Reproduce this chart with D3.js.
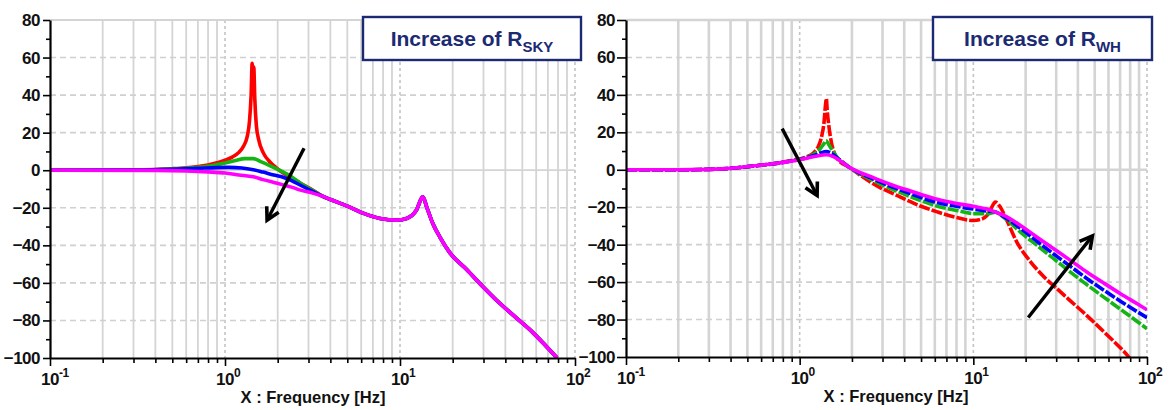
<!DOCTYPE html>
<html>
<head>
<meta charset="utf-8">
<script src="https://cdn.jsdelivr.net/npm/d3@7"></script>
<style>
body { margin: 0; background: #fff; }
svg { display: block; font-family: "Liberation Sans", Arial, sans-serif; }
</style>
</head>
<body>
<svg id="chart" width="1169" height="410"></svg>
<script>
// axis values
var xDecades = [0.1, 1, 10, 100];
var xDecadeExp = ["-1", "0", "1", "2"];
var yTicks = [-100, -80, -60, -40, -20, 0, 20, 40, 60, 80];
var yMinorTicks = [-90, -70, -50, -30, -10, 10, 30, 50, 70];
var colors = ["#ff0000", "#14b414", "#0000ff", "#ff00ff"];

// left plot: increase of R_SKY  [frequency Hz, dB]
var skyRed = [[0.1,0],[0.2,0],[0.3,0.1],[0.4,0.4],[0.5,0.8],[0.6,1.3],[0.7,2],[0.8,2.8],[0.9,4],[1.0,5.3],[1.1,7],[1.2,9.5],[1.28,13],[1.34,18],[1.38,26],[1.41,40],[1.43,57],[1.445,48],[1.46,55],[1.48,38],[1.51,24],[1.56,16],[1.65,9.5],[1.8,4.5],[1.95,1.5],[2.15,-1.5],[2.4,-4],[2.7,-7],[3.2,-10.8]];
var skyGreen = [[0.1,0],[0.3,0.1],[0.5,0.6],[0.7,1.5],[0.85,2.5],[1.0,3.8],[1.15,5.2],[1.3,6.2],[1.45,6.2],[1.6,4.6],[1.8,2.5],[2.1,-0.5],[2.4,-3.5],[2.7,-7],[3.2,-11]];
var skyBlue = [[0.1,0],[0.3,0.1],[0.5,0.5],[0.7,1],[0.9,1.4],[1.05,1.5],[1.25,1.2],[1.45,0.3],[1.65,-1],[1.9,-2.5],[2.15,-3.7],[2.4,-5.5],[2.7,-8],[3.2,-11.5]];
var skyMagenta = [[0.1,0],[0.4,-0.1],[0.6,-0.4],[0.8,-0.9],[1.0,-1.5],[1.2,-2.5],[1.45,-3.5],[1.65,-5],[1.9,-6.5],[2.15,-7.8],[2.4,-9],[2.7,-10.6],[3.2,-12.3]];
// all four curves share the same high frequency part
var skyTail = [[3.6,-13.8],[4,-15.6],[5,-19.1],[6.2,-23],[7.7,-25.7],[9.6,-26.6],[10.9,-25.7],[12.4,-21.3],[13.5,-14.2],[14.2,-19.5],[15.4,-28.4],[17,-36],[19.3,-44],[24.1,-53],[29.8,-62],[37.3,-71],[46,-78.5],[57.5,-86.5],[68,-93.5],[79,-100]];

// right plot: increase of R_WH
var whRed = [[0.1,0],[0.2,0],[0.3,0.2],[0.36,0.5],[0.45,1.2],[0.54,2],[0.65,2.8],[0.77,3.8],[0.9,4.9],[1.0,5.8],[1.1,7],[1.2,9],[1.28,12.5],[1.34,18],[1.38,25],[1.41,35],[1.425,38],[1.44,32],[1.47,24],[1.52,15],[1.6,8],[1.72,4],[1.9,1.8],[2.2,-2.5],[2.55,-6.5],[2.9,-9.5],[3.5,-13],[4,-15.5],[5,-19.5],[6.2,-22.5],[8,-25.5],[10,-27.1],[11,-26.5],[12,-24.4],[12.6,-21],[13.4,-17.3],[14.2,-19.5],[15.6,-27.1],[17.9,-39],[21.3,-49],[25.4,-57],[30.3,-63.5],[36.2,-70],[45.2,-78],[56.4,-86.5],[76.9,-99],[82,-102]];
var whGreen = [[0.1,0],[0.2,0],[0.3,0.2],[0.36,0.5],[0.45,1.2],[0.54,2],[0.65,2.8],[0.77,3.7],[0.9,4.8],[1.0,5.6],[1.1,6.6],[1.2,8.2],[1.3,10.8],[1.37,13.5],[1.42,15.6],[1.47,13.5],[1.55,10],[1.65,6.5],[1.78,3.8],[1.9,1.8],[2.2,-2],[2.55,-5],[2.9,-7.5],[3.5,-10.8],[4,-13],[5,-16.5],[6.2,-19.5],[8,-21.7],[10,-23.4],[12,-23.5],[13.4,-22.6],[15,-25.5],[18.66,-33.3],[23.28,-40.4],[29.02,-47.5],[36.24,-54.7],[45.22,-61.5],[56.36,-68],[70.36,-74.5],[87.8,-81],[100,-84.9]];
var whBlue = [[0.1,0],[0.2,0],[0.3,0.2],[0.36,0.5],[0.45,1.2],[0.54,2],[0.65,2.8],[0.77,3.7],[0.9,4.7],[1.0,5.5],[1.1,6.4],[1.26,8.2],[1.42,9.8],[1.55,8.3],[1.7,5.3],[1.9,1.8],[2.2,-1.6],[2.55,-4.2],[2.9,-6.5],[3.5,-9.5],[4,-11.5],[5,-14.8],[6.2,-17.5],[8,-19.5],[10,-21],[12,-22],[13.4,-22.6],[15,-25],[18.66,-31.2],[23.28,-38.2],[29.02,-45],[36.24,-51.6],[45.22,-58.2],[56.36,-64.3],[70.36,-70.2],[87.8,-75.8],[100,-79]];
var whMagenta = [[0.1,0],[0.2,0],[0.3,0.2],[0.36,0.5],[0.45,1.2],[0.54,2],[0.65,2.8],[0.77,3.7],[0.9,4.7],[1.0,5.4],[1.1,6.2],[1.26,7.4],[1.42,8],[1.55,7.2],[1.7,5],[1.9,1.8],[2.2,-1.2],[2.55,-3.5],[2.9,-5.7],[3.5,-8.5],[4,-10.3],[5,-13.2],[6.2,-15.8],[8,-18],[10,-19.5],[12,-21],[13.4,-22.6],[15,-24.4],[18.66,-29.7],[23.28,-36],[29.02,-42.2],[36.24,-48.4],[45.22,-54.7],[56.36,-60.5],[70.36,-66.2],[87.8,-71.6],[100,-74.8]];

// arrows [from, to] in data units
var skyArrows = [[[2.83, 11.7], [1.74, -26.6]]];
var whArrows = [[[0.793, 22], [1.26, -13.7]], [[20.7, -78.9], [48.5, -35.3]]];

var svg = d3.select("#chart");
var font = '"Liberation Sans", Arial, sans-serif';
var navy = "#1b2a72";

// minor decade positions 2..9
var xMinor = [];
xDecades.slice(0, 3).forEach(function (d) {
	d3.range(2, 10).forEach(function (m) { xMinor.push(d * m); });
});

function drawPanel(p) {
	var x = d3.scaleLog().domain([0.1, 100]).range([p.left, p.right]);
	var y = d3.scaleLinear().domain([-100, 80]).range([p.bottom, p.top]);
	var g = svg.append("g");

	g.append("clipPath").attr("id", p.id + "-clip")
		.append("rect")
		.attr("x", p.left).attr("y", p.top)
		.attr("width", p.right - p.left).attr("height", p.bottom - p.top);

	// vertical grid, solid at 2..9
	g.selectAll(null).data(xMinor).enter().append("line")
		.attr("x1", x).attr("x2", x)
		.attr("y1", p.top).attr("y2", p.bottom)
		.attr("stroke", "#d4d4d4").attr("stroke-width", p.gridWidth);

	// dotted decade lines
	g.selectAll(null).data(xDecades.slice(1)).enter().append("line")
		.attr("x1", x).attr("x2", x)
		.attr("y1", p.top).attr("y2", p.bottom)
		.attr("stroke", "#c4c4c4").attr("stroke-width", 1.6)
		.attr("stroke-dasharray", "3,3");

	// horizontal grid, dashed except zero line and top frame
	g.selectAll(null).data(yTicks.slice(1)).enter().append("line")
		.attr("x1", p.left).attr("x2", p.right)
		.attr("y1", y).attr("y2", y)
		.attr("stroke", function (d) { return d === 0 || d === 80 ? "#d4d4d4" : "#d0d0d0"; })
		.attr("stroke-width", function (d) { return d === 0 || d === 80 ? p.gridWidth : 1.6; })
		.attr("stroke-dasharray", function (d) { return d === 0 || d === 80 ? null : "6,4"; });

	// curves
	var line = d3.line()
		.x(function (d) { return x(d[0]); })
		.y(function (d) { return y(d[1]); })
		.curve(d3.curveMonotoneX);

	g.append("g").attr("clip-path", "url(#" + p.id + "-clip)")
		.selectAll("path").data(p.series).enter().append("path")
		.attr("d", line)
		.attr("fill", "none")
		.attr("stroke", function (d, i) { return colors[i]; })
		.attr("stroke-width", 3.6)
		.attr("stroke-linejoin", "round")
		.attr("stroke-dasharray", function (d, i) { return p.dashed && i < 3 ? "11,2" : null; });

	// y axis, major and minor ticks
	var yAxis = g.append("g")
		.attr("transform", "translate(" + p.left + ",0)")
		.call(d3.axisLeft(y).tickValues(yTicks).tickSize(p.tickLen).tickSizeOuter(0).tickPadding(p.labelGap));
	g.append("g")
		.attr("transform", "translate(" + p.left + ",0)")
		.call(d3.axisLeft(y).tickValues(yMinorTicks).tickSize(4).tickSizeOuter(0).tickFormat(""))
		.select(".domain").remove();

	// x axis
	g.append("g")
		.attr("transform", "translate(0," + p.bottom + ")")
		.call(d3.axisBottom(x).tickValues(xDecades).tickSize(8).tickSizeOuter(0).tickFormat(""));
	g.append("g")
		.attr("transform", "translate(0," + p.bottom + ")")
		.call(d3.axisBottom(x).tickValues(xMinor).tickSize(5).tickSizeOuter(0).tickFormat(""))
		.select(".domain").remove();

	g.selectAll(".domain").attr("stroke", "#000").attr("stroke-width", 2.2);
	g.selectAll(".tick line").attr("stroke", "#000").attr("stroke-width", 1.6);
	yAxis.selectAll("text")
		.attr("font-family", font).attr("font-size", 17).attr("font-weight", "bold")
		.attr("fill", "#111").attr("letter-spacing", -0.5);

	// decade labels 10^n
	var lab = g.selectAll(null).data(xDecades).enter().append("text")
		.attr("x", function (d) { return x(d) - 9; })
		.attr("y", p.bottom + 27)
		.attr("font-family", font).attr("font-weight", "bold")
		.attr("font-size", 17).attr("fill", "#111").attr("letter-spacing", -0.5);
	lab.append("tspan").text("10");
	lab.append("tspan").attr("dy", -8).attr("font-size", 12)
		.text(function (d, i) { return xDecadeExp[i]; });

	// axis title
	g.append("text")
		.attr("x", p.titleX).attr("y", p.bottom + 45)
		.attr("text-anchor", "middle")
		.attr("font-family", font).attr("font-weight", "bold")
		.attr("font-size", 16.5).attr("fill", "#111")
		.text("X : Frequency [Hz]");

	// legend box
	g.append("rect")
		.attr("x", p.box[0]).attr("y", p.box[1])
		.attr("width", p.box[2]).attr("height", p.box[3])
		.attr("fill", "#fff").attr("stroke", navy).attr("stroke-width", 2.4);
	var t = g.append("text")
		.attr("x", p.box[0] + p.box[2] / 2).attr("y", p.box[1] + 29)
		.attr("text-anchor", "middle")
		.attr("font-family", font).attr("font-weight", "bold")
		.attr("font-size", 21).attr("fill", navy);
	t.append("tspan").text("Increase of R");
	t.append("tspan").attr("dy", 6).attr("font-size", 15).text(p.sub);

	// arrows
	p.arrows.forEach(function (a) {
		var x1 = x(a[0][0]), y1 = y(a[0][1]), x2 = x(a[1][0]), y2 = y(a[1][1]);
		var ang = Math.atan2(y2 - y1, x2 - x1);
		var len = 14, spread = 0.5;
		g.append("line")
			.attr("x1", x1).attr("y1", y1).attr("x2", x2).attr("y2", y2)
			.attr("stroke", "#000").attr("stroke-width", 3.4);
		g.append("path")
			.attr("d", "M" + (x2 - len * Math.cos(ang - spread)) + "," + (y2 - len * Math.sin(ang - spread)) +
				"L" + x2 + "," + y2 +
				"L" + (x2 - len * Math.cos(ang + spread)) + "," + (y2 - len * Math.sin(ang + spread)))
			.attr("fill", "none").attr("stroke", "#000").attr("stroke-width", 3.6)
			.attr("stroke-linejoin", "miter");
	});
}

drawPanel({
	id: "sky", left: 50, right: 575, top: 20, bottom: 358,
	tickLen: 7, labelGap: 3, gridWidth: 1.8, titleX: 313,
	series: [skyRed.concat(skyTail), skyGreen.concat(skyTail), skyBlue.concat(skyTail), skyMagenta.concat(skyTail)],
	dashed: false,
	box: [363, 17, 218, 43], sub: "SKY",
	arrows: skyArrows
});

drawPanel({
	id: "wh", left: 626, right: 1147, top: 20, bottom: 357,
	tickLen: 9, labelGap: 2, gridWidth: 2.6, titleX: 896,
	series: [whRed, whGreen, whBlue, whMagenta],
	dashed: true,
	box: [933, 17, 219, 43], sub: "WH",
	arrows: whArrows
});
</script>
</body>
</html>
